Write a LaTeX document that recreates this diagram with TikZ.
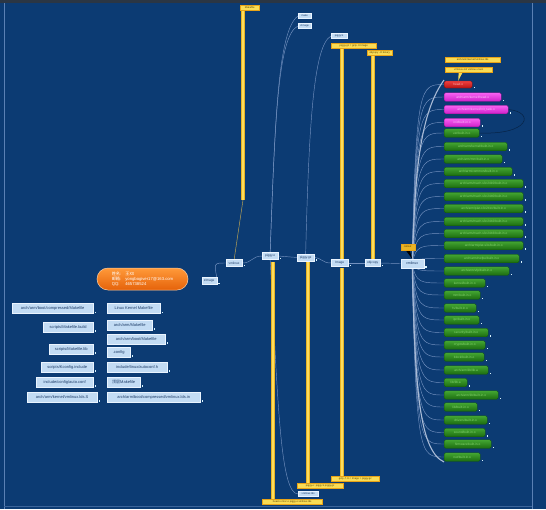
\documentclass[tikz,border=0pt]{standalone}
\usepackage{fontspec}
\setmainfont{Liberation Sans}
\newfontfamily\cjkf{Noto Sans CJK SC}
\definecolor{bgc}{HTML}{0C3B73}
\definecolor{framec}{HTML}{5A80B4}
\definecolor{topc}{HTML}{2B3644}
\definecolor{lightb}{HTML}{C3DCF4}
\definecolor{lightbd}{HTML}{EAF4FF}
\definecolor{darkb}{HTML}{1B3A66}
\definecolor{gtop}{HTML}{44A632}
\definecolor{gbot}{HTML}{1C6C10}
\definecolor{gdark}{HTML}{135A0A}
\definecolor{gtext}{HTML}{86D470}
\definecolor{rtop}{HTML}{EE4040}
\definecolor{rbot}{HTML}{B81414}
\definecolor{mtop}{HTML}{F862F2}
\definecolor{mbot}{HTML}{CF1FCA}
\definecolor{yfill}{HTML}{F9DC55}
\definecolor{ydraw}{HTML}{E8A317}
\definecolor{ytext}{HTML}{5A4000}
\definecolor{ybar}{HTML}{E9B424}
\definecolor{ybarl}{HTML}{FFDD5C}
\definecolor{otop}{HTML}{FF9A3A}
\definecolor{obot}{HTML}{E5620A}
\definecolor{connc}{HTML}{7391BF}
\definecolor{trunkc}{HTML}{A9BBD6}
\pgfdeclarelayer{back}
\pgfdeclarelayer{lines}
\pgfsetlayers{back,lines,main}
\tikzset{
  base/.style={inner sep=0pt, anchor=west, font=\fontsize{3.2}{3.6}\selectfont},
  bbox/.style={base, draw=lightbd, line width=0.3pt, fill=lightb, text=darkb, minimum height=7pt, inner xsep=1.2pt},
  lbox/.style={bbox, minimum height=10pt, font=\fontsize{4}{4.5}\selectfont},
  gbox/.style={base, draw=gdark, line width=0.4pt, top color=gtop, bottom color=gbot, text=gtext, rounded corners=1.5pt, minimum height=8.5pt},
  rbox/.style={gbox, draw=rbot!70!black, top color=rtop, bottom color=rbot, text=rtop!40!white},
  mbox/.style={gbox, draw=mbot!70!black, top color=mtop, bottom color=mbot, text=mtop!40!white},
  ybox/.style={base, draw=ydraw, line width=0.4pt, fill=yfill, text=ytext, minimum height=5pt, font=\fontsize{2.6}{3}\selectfont},
  dotn/.style={fill=white!85!cyan, inner sep=0pt, minimum size=1.4pt, xshift=2pt, yshift=1pt},
  conn/.style={draw=connc, line width=0.45pt},
  trunk/.style={draw=trunkc, line width=1.1pt},
  yb/.style={draw=ybar, line width=4pt},
  ybl/.style={draw=ybarl, line width=1.8pt},
}
\begin{document}
\begin{tikzpicture}[x=1pt,y=-1pt]
\begin{pgfonlayer}{back}
  \fill[bgc] (0,0) rectangle (546,509);
  \fill[topc] (0,0) rectangle (546,3);
  \draw[framec, line width=0.8pt] (4,3) -- (4,509);
  \draw[framec, line width=0.8pt] (532,3) -- (532,509);
  \draw[framec!60!bgc, line width=0.6pt] (4,506) -- (532,506);
\end{pgfonlayer}
\useasboundingbox (0,0) rectangle (546,509);

% info
\node[base, anchor=center, minimum width=91pt, minimum height=22pt, rounded corners=11pt,
  top color=otop, bottom color=obot, draw=otop!50!white, line width=0.5pt, text=white,
  font=\fontsize{4.2}{5}\selectfont] (info) at (142.5,279)
  {\begin{tabular}{@{}l@{\hspace{4pt}}l@{}}{\cjkf 姓名:} & {\cjkf 王XX}\\ {\cjkf 邮箱:} & yongbogiver17@163.com\\ QQ: & 465738524\end{tabular}};

% right column
\node[lbox, minimum width=53pt] (r1) at (107,308.5) {Linux Kernel Makefile};
\node[lbox, minimum width=45pt] (r2) at (107,325) {arch/arm/Makefile};
\node[lbox, minimum width=58pt] (r3) at (107,339) {arch/arm/boot/Makefile};
\node[lbox, minimum width=23pt] (r4) at (107,352) {.config};
\node[lbox, minimum width=60pt] (r5) at (107,367) {include/linux/autoconf.h};
\node[lbox, minimum width=33pt] (r6) at (107,382) {{\cjkf 顶层}Makefile};
\node[lbox, minimum width=93pt] (r7) at (107,397) {arch/arm/boot/compressed/vmlinux.lds.in};
% left column
\node[lbox, minimum width=81pt] (l1) at (12,308.5) {arch/arm/boot/compressed/Makefile};
\node[lbox, minimum width=50pt] (l2) at (43,327) {scripts/Makefile.build};
\node[lbox, minimum width=44pt] (l3) at (49,349) {scripts/Makefile.lib};
\node[lbox, minimum width=52pt] (l4) at (41,367) {scripts/Kconfig.include};
\node[lbox, minimum width=57pt] (l5) at (36,382) {include/config/auto.conf};
\node[lbox, minimum width=70pt] (l6) at (27,397) {arch/arm/kernel/vmlinux.lds.S};
\foreach \n in {r1,r2,r3,r4,r5,r6,r7,l1,l2,l3,l4,l5,l6} \node[dotn] at (\n.south east) {};

% main chain
\node[bbox, minimum width=15pt] (n1) at (201.5,281) {zImage};
\node[bbox, minimum width=16pt] (n2) at (226,263) {vmlinux};
\node[bbox, minimum width=16pt] (n3) at (262,256) {piggy.o};
\node[bbox, minimum width=17pt] (n4) at (297,257.5) {piggy.gz};
\node[bbox, minimum width=17pt] (n5) at (331,263) {Image};
\node[bbox, minimum width=15pt] (n6) at (365,263) {objcopy};
\node[bbox, minimum width=23pt, minimum height=9pt, font=\fontsize{3.6}{4}\selectfont] (hub) at (400.5,263.5) {vmlinux};
\foreach \n in {n1,n2,n3,n4,n5,n6,hub} \node[dotn] at (\n.south east) {};

% top notes
\node[ybox, minimum width=19pt] (y1) at (240,8) {Makefile};
\node[bbox, minimum width=13pt, minimum height=5pt, font=\fontsize{2.6}{3}\selectfont] (t1) at (298,16) {make};
\node[bbox, minimum width=13pt, minimum height=5pt, font=\fontsize{2.6}{3}\selectfont] (t2) at (298,26) {zImage};
\node[bbox, minimum width=16pt, minimum height=5pt, font=\fontsize{2.6}{3}\selectfont] (t3) at (331,36) {piggy.S};
\node[ybox, minimum width=45pt] (y2) at (331,46) {piggy.gz = gzip -9 Image};
\node[ybox, minimum width=25pt] (y3) at (367,53) {objcopy -O binary};
% bottom notes
\node[ybox, minimum width=48pt] (y4) at (331,479) {gzip -f -9 < Image > piggy.gz};
\node[ybox, minimum width=46pt] (y5) at (297,486) {piggy.o: piggy.S piggy.gz};
\node[bbox, minimum width=20pt, minimum height=5pt, font=\fontsize{2.6}{3}\selectfont] (b1) at (298,494) {vmlinux.lds};
\node[ybox, minimum width=60pt] (y6) at (262,502) {head.o misc.o piggy.o vmlinux.lds};

% hub callout
\node[ybox, minimum width=14pt, minimum height=6pt, fill=ybar] (hc) at (400.5,247) {callout};

% hub children
\node[ybox, minimum width=55pt] (c1) at (445,59.5) {arch/arm/kernel/vmlinux.lds};
\node[ybox, minimum width=47pt] (c2) at (445,69.5) {vmlinux-init vmlinux-main};
\node[rbox, minimum width=28pt, minimum height=7pt] (rr) at (444,84.5) {head.o};
\node[mbox, minimum width=57pt] (m1) at (444,97) {arch/arm/kernel/head.o};
\node[mbox, minimum width=64pt] (m2) at (444,109.5) {arch/arm/kernel/init\_task.o};
\node[mbox, minimum width=36pt] (m3) at (444,122.5) {init/built-in.o};
\foreach \i/\xe/\yc/\txt in {
 1/479/133/{usr/built-in.o},
 2/507/146.5/{arch/arm/kernel/built-in.o},
 3/502/159/{arch/arm/mm/built-in.o},
 4/512/171.5/{arch/arm/common/built-in.o},
 5/523/183.5/{arch/arm/mach-s3c2410/built-in.o},
 6/523/196.5/{arch/arm/mach-s3c2440/built-in.o},
 7/523/208.5/{arch/arm/plat-s3c24xx/built-in.o},
 8/523/221.5/{arch/arm/mach-s3c2442/built-in.o},
 9/523/233.5/{arch/arm/mach-s3c2443/built-in.o},
 10/523/245.5/{arch/arm/plat-s3c/built-in.o},
 11/519/258.5/{arch/arm/nwfpe/built-in.o},
 12/509/271/{arch/arm/vfp/built-in.o},
 13/485/283/{kernel/built-in.o},
 14/480/295/{mm/built-in.o},
 15/476/308/{fs/built-in.o},
 16/479/320/{ipc/built-in.o},
 17/488/332.5/{security/built-in.o},
 18/485/345/{crypto/built-in.o},
 19/484/357/{block/built-in.o},
 20/488/370/{arch/arm/lib/lib.a},
 21/467/382.5/{lib/lib.a},
 22/498/395/{arch/arm/lib/built-in.o},
 23/477/407/{lib/built-in.o},
 24/487/420/{drivers/built-in.o},
 25/485/432.5/{sound/built-in.o},
 26/491/444/{firmware/built-in.o},
 27/480/457/{net/built-in.o}}
{
  \node[gbox, minimum width={\xe pt-444pt}] (g\i) at (444,\yc) {\txt};
  \node[dotn] at (g\i.south east) {};
  \begin{pgfonlayer}{lines}
    \draw[conn] (hub.center) .. controls (416,\yc) and (420,\yc) .. (g\i.west);
  \end{pgfonlayer}
}
\foreach \n in {rr,m1,m2,m3} \node[dotn] at (\n.south east) {};

\coordinate (k1) at (243,200);
\coordinate (k2) at (273,262);
\coordinate (k3) at (308,262);
\coordinate (k5a) at (342,259);
\coordinate (k5b) at (342,268);
\coordinate (k6) at (373,259);
\begin{pgfonlayer}{lines}
  \foreach \n/\yc in {rr/84.5,m1/97,m2/109.5,m3/122.5}
    \draw[conn] (hub.center) .. controls (416,\yc) and (420,\yc) .. (\n.west);
  \draw[trunk] (hub.center) .. controls (415,200) and (415,120) .. (rr.west |- 0,80);
  \draw[trunk] (hub.center) .. controls (415,380) and (418,450) .. (g27.west |- 0,462);
  % chain
  \draw[conn] (n1.north east) .. controls (214,263) .. (n2.west);
  \draw[conn] (n2.east) .. controls (252,263) and (252,256) .. (n3.west);
  \draw[conn] (n3.east) -- (n4.west);
  \draw[conn] (n4.east) .. controls (322,258) and (322,263) .. (n5.west);
  \draw[conn] (n5.east) -- (n6.west);
  \draw[conn] (n6.east) -- (hub.west);
  % verticals to notes
  \draw[conn] (n3.north) .. controls (275,120) and (278,30) .. (t1.west);
  \draw[conn] (n3.north) .. controls (275,120) and (278,35) .. (t2.west);
  \draw[conn] (n4.north) .. controls (309,120) and (314,45) .. (t3.west);
  \draw[conn] (n3.south) .. controls (278,400) and (280,494) .. (b1.west);
  \draw[conn, draw=ybar!70!connc] (k1) -- (n2.north);
  % yellow bars
  \foreach \a/\b in {{y1.south -| k1}/k1, k2/{y6.north -| k2}, k3/{y5.north -| k3}, {y2.south -| k5a}/k5a, k5b/{y4.north -| k5b}, {y3.south -| k6}/k6}
  {
    \draw[yb] (\a) -- (\b);
    \draw[ybl] (\a) -- (\b);
  }
  % callout pointers
  \fill[ybar] (hc.south) ++(-2,0) -- ++(4,0) -- (hub.north) -- cycle;
  \fill[yfill] (c2.south) ++(-10,0) -- ++(4,0) -- (rr.north) -- cycle;
  % relationship arc
  \draw[bgc!60!black, line width=0.5pt] (m2.east) .. controls (535,112) and (530,135) .. (g1.east);
\end{pgfonlayer}
\end{tikzpicture}
\end{document}
